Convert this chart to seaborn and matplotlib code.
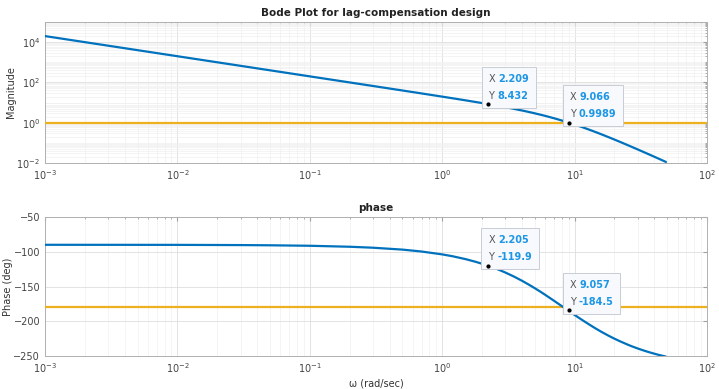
import numpy as np
import pandas as pd
import matplotlib
matplotlib.use("Agg")
import matplotlib.pyplot as plt
import matplotlib.ticker as mticker
from matplotlib.offsetbox import TextArea, HPacker, VPacker, AnnotationBbox
import seaborn as sns

# ---- data ----
omega = [0.001, 0.01, 0.03, 0.05, 0.1, 0.2, 0.3, 0.5, 0.7, 1.0, 1.2, 1.5, 1.8, 2.209,
         2.6, 3.0, 3.5, 4.0, 4.5, 5.0, 5.5, 6.0, 7.0, 8.0, 9.066, 10.0, 11.0, 12.0,
         13.0, 14.5, 16.0, 18.0, 20.0, 22.0, 25.0, 27.0, 30.0, 34.0, 38.0, 43.0, 49.0]
magnitude = [20000, 2000, 666.7, 400, 200, 99.94, 66.58, 39.85, 28.37, 19.71, 16.32,
             12.91, 10.61, 8.432, 7.00, 5.89, 4.845, 4.05, 3.427, 2.927, 2.519, 2.182,
             1.663, 1.290, 0.9989, 0.811, 0.6556, 0.5358, 0.4425, 0.3379, 0.2631,
             0.1933, 0.1457, 0.1123, 0.0787, 0.0634, 0.04698, 0.03278, 0.02375,
             0.01655, 0.01128]
phase = [-90.0, -90.1, -90.4, -90.7, -91.4, -92.8, -94.2, -96.9, -99.7, -103.8, -106.5,
         -110.6, -114.6, -119.9, -124.9, -129.9, -135.9, -141.7, -147.2, -152.4,
         -157.3, -162.0, -170.6, -178.2, -184.5, -190.9, -196.2, -200.9, -205.1,
         -210.7, -215.4, -220.7, -225.1, -228.8, -233.4, -236.0, -239.2, -242.7,
         -245.5, -248.3, -250.9]
mag_ref = 1.0
phase_ref = -180.0
mag_tips = [(2.209, 8.432), (9.066, 0.9989)]
phase_tips = [(2.205, -119.9), (9.057, -184.5)]
x_range = [1e-3, 1e2]

BLUE = "#0072BD"
ORANGE = "#EDB120"
TIPBLUE = "#1E96E6"

sns.set_style("white")
plt.rcParams['font.family'] = ['DejaVu Sans']

df = pd.DataFrame({"omega": omega, "magnitude": magnitude, "phase": phase})
ref = pd.DataFrame({"omega": x_range, "mag": [mag_ref, mag_ref], "ph": [phase_ref, phase_ref]})

fig = plt.figure(figsize=(7.19, 3.89), dpi=100)
L, R = 45, 707
W = R - L
ax1 = fig.add_axes([L/719, 1 - 163/389, W/719, (163-22)/389])
ax2 = fig.add_axes([L/719, 1 - 356/389, W/719, (356-217)/389])


def style_axes(ax):
    ax.set_xscale("log")
    ax.set_xlim(*x_range)
    ax.grid(True, which="major", color="#dedede", linewidth=0.6)
    ax.grid(True, which="minor", color="#f0f0f0", linewidth=0.5)
    ax.set_axisbelow(True)
    for s in ax.spines.values():
        s.set_color("#b0b0b0")
        s.set_linewidth(0.7)
    ax.tick_params(which="both", direction="in", top=True, right=True,
                   colors="#a0a0a0", labelcolor="#444444", labelsize=7)
    ax.tick_params(which="major", length=3)
    ax.tick_params(which="minor", length=1.5)
    ax.xaxis.set_major_locator(mticker.LogLocator(base=10, numticks=10))
    ax.xaxis.set_minor_locator(mticker.LogLocator(base=10, subs=np.arange(2, 10), numticks=50))
    ax.xaxis.set_minor_formatter(mticker.NullFormatter())


def add_tip(ax, x, y, xs, ys):
    row1 = HPacker(children=[TextArea("X", textprops=dict(color="#555555", fontsize=7)),
                             TextArea(xs, textprops=dict(color=TIPBLUE, fontsize=7, fontweight="bold"))],
                   pad=0, sep=2, align="baseline")
    row2 = HPacker(children=[TextArea("Y", textprops=dict(color="#555555", fontsize=7)),
                             TextArea(ys, textprops=dict(color=TIPBLUE, fontsize=7, fontweight="bold"))],
                   pad=0, sep=2, align="baseline")
    box = VPacker(children=[row1, row2], pad=0, sep=5, align="left")
    ab = AnnotationBbox(box, (x, y), xybox=(0.5, 2.5), xycoords="data",
                        boxcoords="offset points", box_alignment=(0, 0), frameon=True,
                        pad=0.5,
                        bboxprops=dict(facecolor="#f7f9fc", edgecolor="#c8ccd4", linewidth=0.7))
    ab.set_zorder(6)
    ax.add_artist(ab)
    ax.plot([x], [y], marker="o", markersize=2.0, color="black", zorder=7)


# magnitude
sns.lineplot(data=df, x="omega", y="magnitude", ax=ax1, color=BLUE, linewidth=1.6, zorder=4)
sns.lineplot(data=ref, x="omega", y="mag", ax=ax1, color=ORANGE, linewidth=1.6, zorder=3)
ax1.set_yscale("log")
ax1.set_ylim(1e-2, 1e5)
style_axes(ax1)
ax1.yaxis.set_major_locator(mticker.FixedLocator([1e-2, 1e0, 1e2, 1e4]))
ax1.yaxis.set_minor_locator(mticker.LogLocator(base=10, subs=np.arange(1, 10), numticks=50))
ax1.yaxis.set_minor_formatter(mticker.NullFormatter())
ax1.yaxis.set_major_formatter(mticker.LogFormatterSciNotation())
ax1.set_xlabel("")
ax1.set_ylabel("Magnitude", fontsize=7, color="#333333")
ax1.yaxis.set_label_coords(-(45 - 16) / W, 0.5)
ax1.set_title("Bode Plot for lag-compensation design", fontsize=7.5, fontweight="bold",
              color="#222222", pad=4)
for (x, y) in mag_tips:
    add_tip(ax1, x, y, f"{x:g}", f"{y:g}")

# phase
sns.lineplot(data=df, x="omega", y="phase", ax=ax2, color=BLUE, linewidth=1.6, zorder=4)
sns.lineplot(data=ref, x="omega", y="ph", ax=ax2, color=ORANGE, linewidth=1.6, zorder=3)
ax2.set_ylim(-250, -50)
style_axes(ax2)
ax2.yaxis.set_major_locator(mticker.MultipleLocator(50))
ax2.yaxis.set_minor_locator(mticker.MultipleLocator(50))
ax2.set_ylabel("Phase (deg)", fontsize=7, color="#333333")
ax2.yaxis.set_label_coords(-(45 - 13) / W, 0.5)
ax2.set_xlabel("\u03c9 (rad/sec)", fontsize=7, color="#333333", labelpad=3)
ax2.set_title("phase", fontsize=7.5, fontweight="bold", color="#222222", pad=4)
for (x, y) in phase_tips:
    add_tip(ax2, x, y, f"{x:g}", f"{y:g}")

fig.savefig("out.png", dpi=100, facecolor="white")
